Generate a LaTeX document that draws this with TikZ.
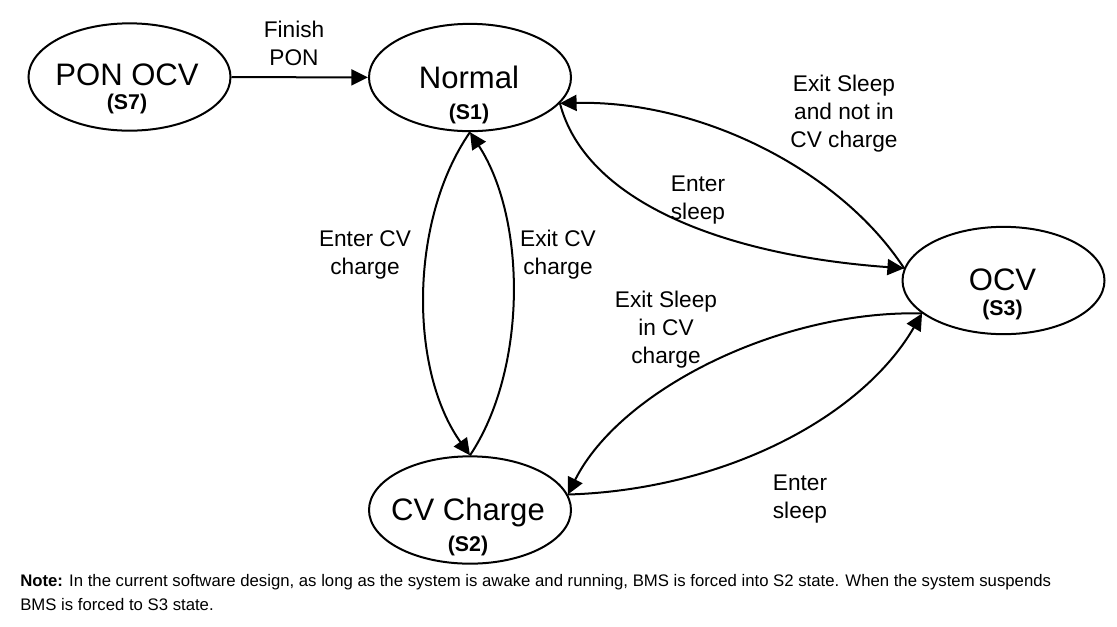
\documentclass[tikz,border=0pt]{standalone}
\usepackage{fontspec}
\setmainfont{Liberation Sans}
\usetikzlibrary{arrows.meta,shapes.geometric}
\begin{document}
\begin{tikzpicture}[x=0.75pt,y=-0.75pt,
  state/.style={draw, line width=1.5pt, ellipse, inner sep=0pt,
    minimum width=151.5pt, minimum height=80.5pt},
  stname/.style={font=\fontsize{23.3}{27}\selectfont, inner sep=0pt, anchor=base},
  stsub/.style={font=\fontsize{16}{19}\selectfont\bfseries, inner sep=0pt, anchor=base},
  lbl/.style={font=\fontsize{17}{21}\selectfont, align=center, inner sep=0pt},
  notestyle/.style={font=\fontsize{12.55}{17.5}\selectfont, align=left, inner sep=0pt, anchor=north west},
  arr/.style={line width=1.5pt, -{Triangle[length=12.5pt,width=12pt]}}
]
\fill[white] (0,0) rectangle (1117,626);
\useasboundingbox (0,0) rectangle (1117,626);

% states
\node[state] (pon) at (129.5,77) {};
\node[state] (normal) at (470,77.5) {};
\node[state] (ocv) at (1003.5,280.5) {};
\node[state] (cv) at (470,510) {};

\node[stname] (ponname) at (127,85.5) {PON OCV};
\node[stsub] (ponsub) at (127,109.3) {(S7)};
\node[stname] (normalname) at (469,88) {Normal};
\node[stsub] (normalsub) at (469,119.6) {(S1)};
\node[stname] (ocvname) at (1002.5,290.5) {OCV};
\node[stsub] (ocvsub) at (1002.5,315.6) {(S3)};
\node[stname] (cvname) at (468,520.5) {CV Charge};
\node[stsub] (cvsub) at (468,551.6) {(S2)};

% transitions
\draw[arr] (pon) -- (normal);
\draw[arr] (normal.south) .. controls (409,220) and (409,370) .. (cv.north);
\draw[arr] (cv.north) .. controls (527,370) and (527,220) .. (normal.south);
\draw[arr] (normal.-16) .. controls (585,200) and (720,255) .. (ocv.173);
\draw[arr] (ocv.173) .. controls (840,170) and (700,100) .. (normal.-16);
\draw[arr] (ocv.202) .. controls (780,310) and (620,390) .. (cv.9);
\draw[arr] (cv.9) .. controls (720,490) and (860,420) .. (ocv.202);

% labels
\node[lbl] (lfinish) at (294,45.8) {\strut Finish\\\strut PON};
\node[lbl] (lexitnot) at (844,113.8) {\strut Exit Sleep\\and not in\\\strut CV charge};
\node[lbl] (lenter1) at (698,199.8) {\strut Enter\\\strut sleep};
\node[lbl] (lentercv) at (365,254.8) {\strut Enter CV\\\strut charge};
\node[lbl] (lexitcv) at (558,254.8) {\strut Exit CV\\\strut charge};
\node[lbl] (lexitin) at (666,329.8) {\strut Exit Sleep\\in CV\\\strut charge};
\node[lbl] (lenter2) at (800,498.8) {\strut Enter\\\strut sleep};

% note
\node[notestyle] (note) at (20,570.2) {\strut\textbf{Note:} In the current software design, as long as the system is awake and running, BMS is forced into S2 state. When the system suspends\\\strut BMS is forced to S3 state.};
\end{tikzpicture}
\end{document}
